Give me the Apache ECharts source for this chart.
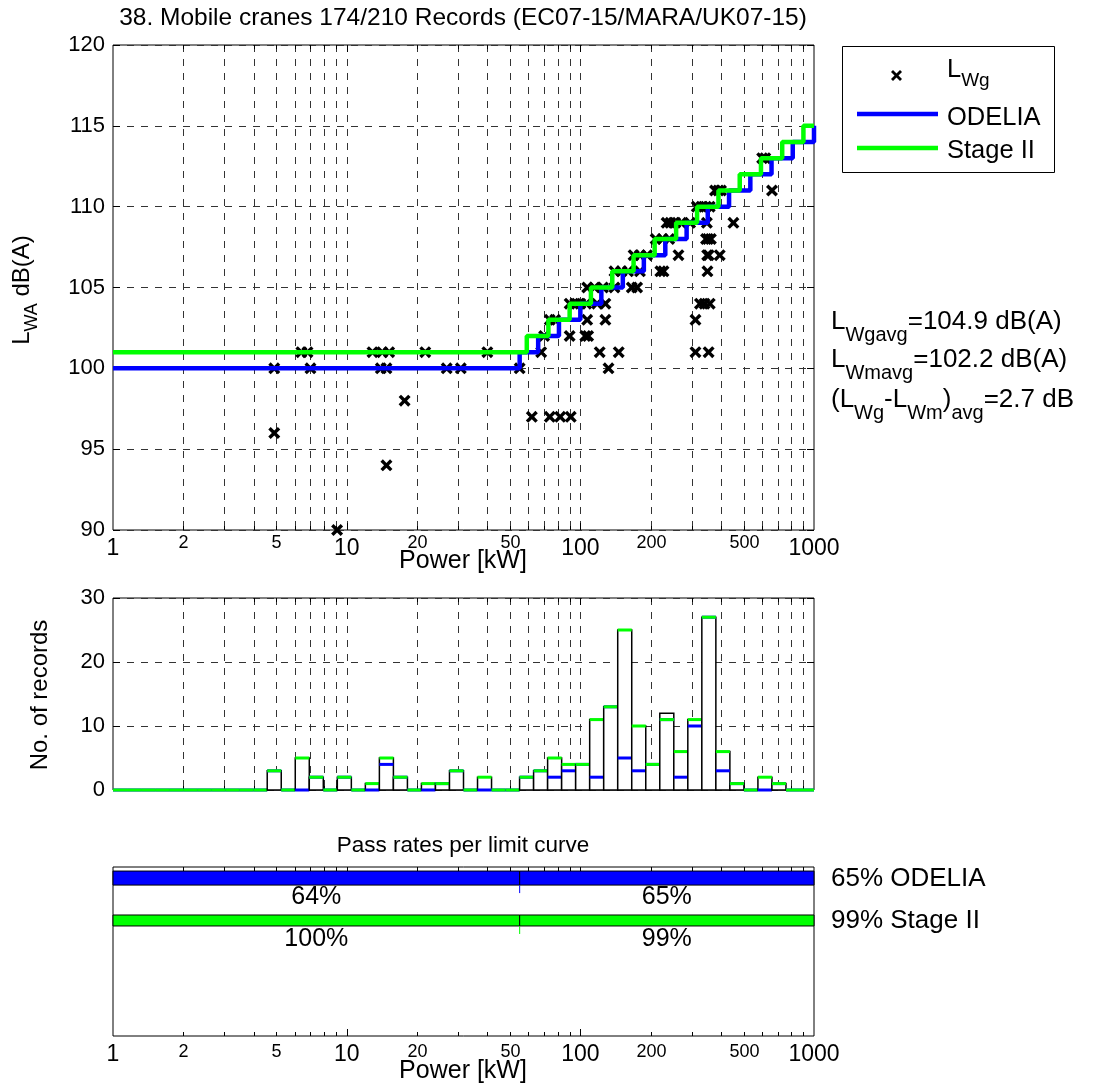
<!DOCTYPE html>
<html>
<head>
<meta charset="utf-8">
<script src="https://cdn.jsdelivr.net/npm/echarts/dist/echarts.min.js"></script>
<style>
  html, body { margin: 0; padding: 0; background: #fff; }
  #chart { width: 1094px; height: 1086px; }
</style>
</head>
<body>
<div id="chart"></div>
<script>
// ---------------- data ----------------
const titleText = '38. Mobile cranes 174/210 Records (EC07-15/MARA/UK07-15)';
const powerRange = [1, 1000];
const majorTicks = [1, 10, 100, 1000];
const minorTicks = [2, 3, 4, 5, 6, 7, 8, 9, 20, 30, 40, 50, 60, 70, 80, 90,
                    200, 300, 400, 500, 600, 700, 800, 900];
const minorLabels = [2, 5, 20, 50, 200, 500];

// Guaranteed sound power per record: [power kW, LWg dB(A)]
const lwgPoints = [
  [4.9, 100], [4.9, 96], [6.4, 101], [6.8, 101], [7.0, 100], [9.1, 90],
  [12.9, 101], [14.0, 100], [14.2, 101], [14.8, 100], [14.8, 94], [15.2, 101],
  [17.7, 98], [21.7, 101], [26.8, 100], [30.8, 100], [40, 101], [55, 100],
  [62, 97], [74, 97], [82, 97], [91, 97],
  [132, 100],
  [68, 101], [121, 101], [146, 101], [311, 101], [354, 101],
  [70, 102], [90, 102], [105, 102], [108, 102],
  [74, 103], [78, 103], [107, 103], [128, 103], [311, 103],
  [90, 104], [95, 104], [100, 104], [106, 104], [118, 104], [128, 104], [325, 104], [340, 104], [358, 104],
  [107, 105], [115, 105], [125, 105], [140, 105], [166, 105], [175, 105],
  [140, 106], [150, 106], [160, 106], [180, 106], [220, 106], [227, 106], [350, 106],
  [169, 107], [180, 107], [193, 107], [263, 107], [349, 107], [354, 107], [395, 107],
  [210, 108], [225, 108], [240, 108], [345, 108], [352, 108], [362, 108],
  [234, 109], [243, 109], [255, 109], [270, 109], [295, 109], [348, 109], [452, 109],
  [315, 110], [330, 110], [345, 110], [358, 110],
  [377, 111], [390, 111], [400, 111], [661, 111],
  [600, 113], [619, 113]
];

// Limit curves as steps: [power where the level starts, level dB(A)]
const odeliaSteps = [
  [1, 100], [55, 101], [66, 102], [81, 103], [100, 104], [123, 105], [152, 106],
  [187, 107], [231, 108], [285, 109], [351, 110], [433, 111], [534, 112],
  [658, 113], [811, 114], [1000, 115]
];
const stageIISteps = [
  [1, 101], [59, 102], [73, 103], [90, 104], [111, 105], [137, 106], [169, 107],
  [208, 108], [257, 109], [316, 110], [390, 111], [481, 112], [593, 113],
  [731, 114], [901, 115], [1000, 115]
];

// Histogram bins (power, kW) and counts per bin
const binEdges = [
  1, 1.1482, 1.3183, 1.5136, 1.7378, 1.9953, 2.2909, 2.6303, 3.0200, 3.4674,
  3.9811, 4.5709, 5.2481, 6.0256, 6.9183, 7.9433, 9.1201, 10.471, 12.023, 13.804,
  15.849, 18.197, 20.893, 23.988, 27.542, 31.623, 36.308, 41.687, 47.863, 54.954,
  63.096, 72.444, 83.176, 95.499, 109.65, 125.89, 144.54, 165.96, 190.55, 218.78,
  251.19, 288.40, 331.13, 380.19, 436.52, 501.19, 575.44, 660.69, 758.58, 870.96, 1000
];
const recordCount = [
  0, 0, 0, 0, 0, 0, 0, 0, 0, 0,
  0, 3, 0, 5, 2, 0, 2, 0, 1, 5,
  2, 0, 1, 1, 3, 0, 2, 0, 0, 2,
  3, 5, 4, 4, 11, 13, 25, 10, 4, 12,
  6, 11, 27, 6, 1, 0, 2, 1, 0, 0
];
const stageIIPassCount = [
  0, 0, 0, 0, 0, 0, 0, 0, 0, 0,
  0, 3, 0, 5, 2, 0, 2, 0, 1, 5,
  2, 0, 1, 1, 3, 0, 2, 0, 0, 2,
  3, 5, 4, 4, 11, 13, 25, 10, 4, 11,
  6, 11, 27, 6, 1, 0, 2, 1, 0, 0
];
const odeliaPassCount = [
  0, 0, 0, 0, 0, 0, 0, 0, 0, 0,
  0, 3, 0, 0, 2, 0, 2, 0, 0, 4,
  2, 0, 0, 1, 3, 0, 0, 0, 0, 2,
  3, 2, 3, 4, 2, 13, 5, 3, 4, 11,
  2, 10, 27, 3, 1, 0, 0, 1, 0, 0
];

// Pass rates below / above the split power
const passSplitPower = 55;
const odeliaPassRates = [64, 65];
const stageIIPassRates = [100, 99];
const odeliaPassOverall = 65;
const stageIIPassOverall = 99;

const lwgAvg = 104.9;
const lwmAvg = 102.2;
const diffAvg = 2.7;

// ---------------- styling ----------------
const FONT = "'Liberation Sans', Arial, Helvetica, sans-serif";
const GRID_COLOR = '#333';
const DASH = [7, 7];
const BLUE = '#0000ff';
const GREEN = '#00ff00';
const CROSS = 'path://M0,2L2,0L5,3L8,0L10,2L7,5L10,8L8,10L5,7L2,10L0,8L3,5Z';

const grids = [
  { left: 113, top: 45, width: 701, height: 485 },
  { left: 113, top: 598, width: 701, height: 192 },
  { left: 113, top: 867, width: 701, height: 169 }
];

const measureCtx = document.createElement('canvas').getContext('2d');
function textWidth(str, size) {
  measureCtx.font = size + 'px ' + FONT;
  return measureCtx.measureText(str).width;
}
function txt(x, y, text, size, align, extra) {
  return Object.assign({
    type: 'text', x: x, y: y, z: 100, silent: true,
    style: { text: text, font: size + 'px ' + FONT, fill: '#000',
             align: align || 'center', verticalAlign: 'middle' }
  }, extra || {});
}
// Text line with subscripts: parts = [[string, isSub], ...]
function subLine(x, y, parts, size, subSize, drop, centered, rotation) {
  const widths = parts.map(p => textWidth(p[0], p[1] ? subSize : size));
  const total = widths.reduce((a, b) => a + b, 0);
  let cx = centered ? -total / 2 : 0;
  const children = parts.map((p, i) => {
    const el = txt(cx, p[1] ? drop : 0, p[0], p[1] ? subSize : size, 'left');
    cx += widths[i];
    return el;
  });
  return { type: 'group', x: x, y: y, rotation: rotation || 0, z: 100, children: children };
}

const xTickValues = majorTicks.concat(minorTicks);

function tickSeries(gi, yAxisIndex, yMin, dashed, labelOffset) {
  return {
    type: 'custom', xAxisIndex: gi, yAxisIndex: yAxisIndex, silent: true, clip: false, z: 1,
    encode: { x: 0, y: 1 },
    data: xTickValues.map(v => [v, yMin]),
    renderItem: function (params, api) {
      const v = api.value(0);
      const cs = params.coordSys;
      const x = Math.round(api.coord([v, yMin])[0]) + 0.5;
      const top = cs.y, bottom = cs.y + cs.height;
      const len = majorTicks.indexOf(v) >= 0 ? 7 : 4;
      const interior = v > powerRange[0] && v < powerRange[1];
      const kids = [];
      if (interior) {
        if (dashed) {
          kids.push({ type: 'line', shape: { x1: x, y1: top, x2: x, y2: bottom },
                      style: { stroke: GRID_COLOR, lineWidth: 1, lineDash: DASH } });
        }
        kids.push({ type: 'line', shape: { x1: x, y1: top, x2: x, y2: top + len },
                    style: { stroke: '#000', lineWidth: 1 } });
        kids.push({ type: 'line', shape: { x1: x, y1: bottom, x2: x, y2: bottom - len },
                    style: { stroke: '#000', lineWidth: 1 } });
      }
      if (labelOffset != null && minorLabels.indexOf(v) >= 0) {
        kids.push({ type: 'text', x: x, y: bottom + labelOffset,
                    style: { text: String(v), font: '18px ' + FONT, fill: '#000',
                             align: 'center', verticalAlign: 'middle' } });
      }
      return { type: 'group', children: kids };
    }
  };
}

function xAxisFor(gi, showLabels) {
  return {
    type: 'log', logBase: 10, gridIndex: gi, min: powerRange[0], max: powerRange[1], splitNumber: 3,
    axisLine: { show: false }, axisTick: { show: false }, splitLine: { show: false },
    axisLabel: { show: showLabels, showMinLabel: true, showMaxLabel: true, margin: 7,
                 fontSize: 23, fontFamily: FONT, color: '#000',
                 formatter: v => String(Math.round(v)) }
  };
}
function yAxisFor(gi, min, max, interval, side, labels, split) {
  return {
    type: 'value', gridIndex: gi, position: side, min: min, max: max, interval: interval,
    axisLine: { show: false },
    axisTick: { show: true, inside: true, length: 7, lineStyle: { color: '#000' } },
    axisLabel: { show: labels, fontSize: 22, fontFamily: FONT, color: '#000', margin: 8 },
    splitLine: { show: split, lineStyle: { color: GRID_COLOR, type: DASH, width: 1 } }
  };
}

// Histogram bins built from the edge and count arrays
const histData = recordCount.map((n, i) =>
  [binEdges[i], binEdges[i + 1], n, odeliaPassCount[i], stageIIPassCount[i]]);

// Pass-rate bands: [from kW, to kW, rate %, row]
const passRows = [odeliaPassRates, stageIIPassRates];
const passData = [];
passRows.forEach((rates, row) => {
  passData.push([powerRange[0], passSplitPower, rates[0], row]);
  passData.push([passSplitPower, powerRange[1], rates[1], row]);
});
const bandLayout = [
  { top: 0.024, bottom: 0.107, label: 0.178, color: BLUE },
  { top: 0.284, bottom: 0.349, label: 0.426, color: GREEN }
];

const option = {
  animation: false,
  backgroundColor: '#fff',
  grid: grids.map(g => Object.assign({ show: true, borderColor: '#000', borderWidth: 1,
                                       backgroundColor: 'transparent', containLabel: false,
                                       outerBoundsMode: 'none' }, g)),
  xAxis: [xAxisFor(0, true), xAxisFor(1, false), xAxisFor(2, true)],
  yAxis: [
    yAxisFor(0, 90, 120, 5, 'left', true, true),
    yAxisFor(0, 90, 120, 5, 'right', false, false),
    yAxisFor(1, 0, 30, 10, 'left', true, true),
    yAxisFor(1, 0, 30, 10, 'right', false, false),
    { type: 'value', gridIndex: 2, min: 0, max: 1, inverse: true, show: false }
  ],
  series: [
    tickSeries(0, 0, 90, true, 13),
    tickSeries(1, 2, 0, true, null),
    tickSeries(2, 4, 0, false, 16),
    {
      name: 'LWg', type: 'scatter', xAxisIndex: 0, yAxisIndex: 0, clip: false, z: 2, silent: true,
      symbol: CROSS, symbolSize: 12, itemStyle: { color: '#000', opacity: 1 }, data: lwgPoints
    },
    {
      name: 'ODELIA', type: 'line', xAxisIndex: 0, yAxisIndex: 0, step: 'end', z: 3, silent: true,
      symbol: 'none', lineStyle: { color: BLUE, width: 4.5 }, data: odeliaSteps
    },
    {
      name: 'Stage II', type: 'line', xAxisIndex: 0, yAxisIndex: 0, step: 'end', z: 4, silent: true,
      symbol: 'none', lineStyle: { color: GREEN, width: 4.5 }, data: stageIISteps
    },
    {
      type: 'custom', xAxisIndex: 1, yAxisIndex: 2, z: 2, silent: true, clip: false,
      encode: { x: [0, 1], y: [2, 3, 4] },
      data: histData,
      renderItem: function (params, api) {
        const lo = api.value(0), hi = api.value(1), n = api.value(2);
        const p0 = api.coord([lo, 0]);
        const p1 = api.coord([hi, n]);
        const yOd = api.coord([lo, api.value(3)])[1];
        const ySt = api.coord([lo, api.value(4)])[1];
        const kids = [];
        if (n > 0) {
          kids.push({ type: 'rect', shape: { x: p0[0], y: p1[1], width: p1[0] - p0[0], height: p0[1] - p1[1] },
                      style: { fill: '#fff', stroke: '#000', lineWidth: 1.5 } });
        }
        kids.push({ type: 'line', shape: { x1: p0[0], y1: yOd, x2: p1[0], y2: yOd },
                    style: { stroke: BLUE, lineWidth: 3 } });
        kids.push({ type: 'line', shape: { x1: p0[0], y1: ySt, x2: p1[0], y2: ySt },
                    style: { stroke: GREEN, lineWidth: 3 } });
        return { type: 'group', children: kids };
      }
    },
    {
      type: 'custom', xAxisIndex: 2, yAxisIndex: 4, z: 2, silent: true, clip: false,
      encode: { x: [0, 1], y: 3 },
      data: passData,
      renderItem: function (params, api) {
        const lo = api.value(0), hi = api.value(1), rate = api.value(2), row = api.value(3);
        const lay = bandLayout[row];
        const a = api.coord([lo, lay.top]);
        const b = api.coord([hi, lay.bottom]);
        const mid = api.coord([Math.sqrt(lo * hi), lay.label]);
        const kids = [
          { type: 'rect', shape: { x: a[0], y: a[1], width: b[0] - a[0], height: b[1] - a[1] },
            style: { fill: lay.color, stroke: '#000', lineWidth: 1 } },
          { type: 'text', x: mid[0], y: mid[1],
            style: { text: rate + '%', font: '25px ' + FONT, fill: '#000', align: 'center', verticalAlign: 'middle' } }
        ];
        if (lo > powerRange[0]) {
          kids.push({ type: 'line', shape: { x1: a[0], y1: b[1], x2: a[0], y2: b[1] + 8 },
                      style: { stroke: lay.color, lineWidth: 1 } });
        }
        return { type: 'group', children: kids };
      }
    }
  ],
  graphic: [
    txt(463, 18, titleText, 24.5),
    subLine(22, 290, [['L', 0], ['WA', 1], [' dB(A)', 0]], 24, 18, 10, true, Math.PI / 2),
    txt(463, 561, 'Power [kW]', 25),
    txt(40, 695, 'No. of records', 24, 'center', { rotation: Math.PI / 2 }),
    txt(463, 846, 'Pass rates per limit curve', 22.5),
    txt(463, 1071, 'Power [kW]', 25),
    // legend
    { type: 'rect', z: 90, silent: true, shape: { x: 842.5, y: 46.5, width: 212, height: 126 },
      style: { fill: '#fff', stroke: '#000', lineWidth: 1 } },
    { type: 'line', z: 100, silent: true, shape: { x1: 892, y1: 71, x2: 901, y2: 80 }, style: { stroke: '#000', lineWidth: 2.8 } },
    { type: 'line', z: 100, silent: true, shape: { x1: 901, y1: 71, x2: 892, y2: 80 }, style: { stroke: '#000', lineWidth: 2.8 } },
    subLine(947, 70, [['L', 0], ['Wg', 1]], 25.5, 19, 11, false),
    { type: 'line', z: 100, silent: true, shape: { x1: 857, y1: 114, x2: 938, y2: 114 }, style: { stroke: BLUE, lineWidth: 4.5 } },
    txt(947, 118, 'ODELIA', 25.5, 'left'),
    { type: 'line', z: 100, silent: true, shape: { x1: 857, y1: 148, x2: 938, y2: 148 }, style: { stroke: GREEN, lineWidth: 4.5 } },
    txt(947, 151, 'Stage II', 25.5, 'left'),
    // averages
    subLine(831, 322, [['L', 0], ['Wgavg', 1], ['=' + lwgAvg.toFixed(1) + ' dB(A)', 0]], 26, 20, 13, false),
    subLine(831, 360, [['L', 0], ['Wmavg', 1], ['=' + lwmAvg.toFixed(1) + ' dB(A)', 0]], 26, 20, 13, false),
    subLine(831, 400, [['(L', 0], ['Wg', 1], ['-L', 0], ['Wm', 1], [')', 0], ['avg', 1], ['=' + diffAvg.toFixed(1) + ' dB', 0]], 26, 20, 13, false),
    // overall pass rates
    txt(831, 879, odeliaPassOverall + '% ODELIA', 26, 'left'),
    txt(831, 921, stageIIPassOverall + '% Stage II', 26, 'left')
  ]
};

const chart = echarts.init(document.getElementById('chart'));
chart.setOption(option);
</script>
</body>
</html>
